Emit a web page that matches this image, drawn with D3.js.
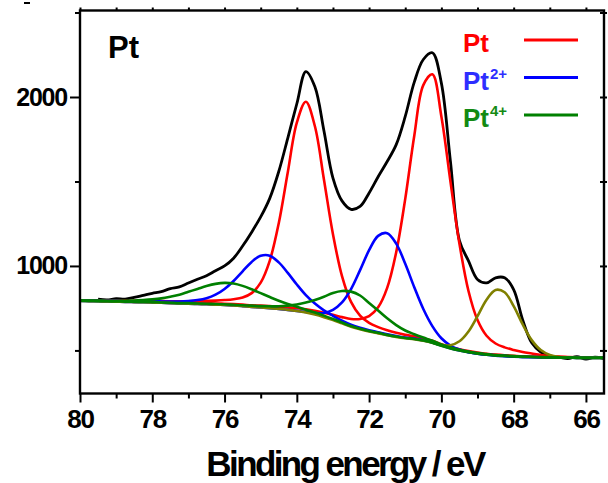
<!DOCTYPE html>
<html><head><meta charset="utf-8">
<script src="https://cdn.jsdelivr.net/npm/d3@7"></script>
<style>
html,body{margin:0;padding:0;background:#fff;}
svg{display:block;}
text{font-family:"Liberation Sans",Arial,Helvetica,sans-serif;font-weight:bold;}
</style></head><body>
<svg id="chart" width="608" height="483"></svg>
<script>
// ---- data (binding energy in eV, intensity in counts) ----
const energy = [80,79.75,79.5,79.25,79,78.75,78.5,78.25,78,77.75,77.5,77.25,77,76.75,76.5,76.25,76,75.75,75.5,75.25,75,74.75,74.5,74.25,74,73.75,73.5,73.25,73,72.75,72.5,72.25,72,71.75,71.5,71.25,71,70.75,70.5,70.25,70,69.75,69.5,69.25,69,68.75,68.5,68.25,68,67.75,67.5,67.25,67,66.75,66.5,66.25,66,65.75,65.5];

const envelope = [null,null,803,799,806,804,814,826,838,848,866,876,899,921,942,972,1000,1046,1118,1200,1290,1400,1559,1757,1960,2150,2060,1800,1520,1385,1335,1352,1432,1528,1618,1718,1885,2088,2222,2262,2082,1620,1150,1030,920,900,930,930,860,680,545,490,463,460,452,463,449,460,451];

const ptPeak1 = [797,796,796,795,795,793,793,793,793,792,791,791,791,792,793,795,798,803,813,839,901,1030,1253,1555,1848,1972,1827,1512,1188,940,787,706,663,638,619,604,592,583,571,557,537,520,507,496,487,480,475,471,468,465,464,463,461,460,460,459,459,458,458];
const ptPeak2 = [796,795,794,793,792,790,790,789,788,786,785,783,782,781,779,778,776,774,771,767,765,762,758,755,750,743,734,723,711,697,686,686,703,755,870,1081,1397,1771,2070,2134,1885,1501,1131,852,680,587,541,518,503,491,482,473,467,463,461,459,458,458,457];
const pt2Peak1 = [796,795,794,793,793,791,791,791,790,790,789,789,792,798,809,830,864,911,968,1024,1060,1061,1021,959,890,827,777,737,705,676,652,634,620,608,596,585,576,570,560,547,529,513,500,490,482,476,471,467,464,462,461,460,459,458,458,457,457,457,457];
const pt2Peak2 = [793,792,791,790,789,787,786,785,784,782,780,778,777,775,773,771,769,766,762,758,754,750,745,740,734,727,721,722,740,784,863,975,1093,1178,1194,1132,1013,874,745,644,572,529,505,490,481,474,469,466,463,461,460,459,458,457,457,456,456,456,456];
const pt4Peak1 = [796,795,795,794,794,794,795,798,802,808,818,830,847,864,881,894,900,896,882,862,839,816,794,775,758,741,724,706,686,665,644,628,615,604,592,582,574,568,559,546,527,511,499,489,481,475,470,467,464,462,461,459,458,457,457,456,456,456,456];
const pt4Peak2 = [794,793,792,791,790,789,788,787,786,784,782,780,780,778,776,775,773,770,767,765,762,761,761,765,772,783,799,818,840,852,848,825,781,736,690,650,618,596,576,557,535,517,504,493,484,478,472,469,466,463,462,461,460,459,458,457,457,457,457];
const extraPeak = [793,792,791,790,789,787,786,785,784,782,780,778,777,775,773,771,769,766,762,758,754,750,745,740,733,724,712,697,680,660,640,625,612,601,590,580,572,566,557,546,532,531,554,612,703,800,858,844,762,654,561,502,473,461,458,456,456,456,456];

const xMajorTicks = [80,78,76,74,72,70,68,66];
const xMinorTicks = [79,77,75,73,71,69,67];
const xTopTicks = [80,79,78,77,76,75,74,73,72,71,70,69,68,67,66];
const yMajorTicks = [1000,2000];
const yMinorTicks = [500,1500,2500];
const legendItems = [
  {name:"Pt", sup:"", text:"#ff0000", line:"#ff0000"},
  {name:"Pt", sup:"2+", text:"#2e2eff", line:"#0000ff"},
  {name:"Pt", sup:"4+", text:"#138a13", line:"#008000"}
];

// ---- layout ----
const svg = d3.select("#chart");
const L = 80, R = 604, T = 10.5, B = 393.5;
const x = d3.scaleLinear().domain([80, 65.5]).range([L, R]);
const y = d3.scaleLinear().domain([245, 2512]).range([B, T]);

svg.append("defs").append("clipPath").attr("id","clip")
  .append("rect").attr("x",L).attr("y",T).attr("width",R-L).attr("height",B-T);

const plot = svg.append("g").attr("clip-path","url(#clip)");

function series(vals){ return energy.map((e,i)=>({e:e, v:vals[i]})); }
const line = d3.line().defined(d=>d.v!=null).x(d=>x(d.e)).y(d=>y(d.v)).curve(d3.curveCatmullRom.alpha(0.5));

const curves = [
  {vals:envelope, color:"#000000", w:2.8},
  {vals:ptPeak1, color:"#ff0000", w:2.6},
  {vals:ptPeak2, color:"#ff0000", w:2.6},
  {vals:pt2Peak1, color:"#0000ff", w:2.6},
  {vals:pt2Peak2, color:"#0000ff", w:2.6},
  {vals:extraPeak, color:"#808000", w:2.6},
  {vals:pt4Peak1, color:"#008000", w:2.6},
  {vals:pt4Peak2, color:"#008000", w:2.6}
];
curves.forEach(c=>{
  plot.append("path").datum(series(c.vals))
    .attr("fill","none").attr("stroke",c.color).attr("stroke-width",c.w)
    .attr("stroke-linejoin","round").attr("d",line);
});

// ---- axes ----
function styleAxis(g){ g.select(".domain").remove(); g.selectAll(".tick line").attr("stroke","#000").attr("stroke-width",2); }

const gb = svg.append("g").attr("transform",`translate(0,${B})`)
  .call(d3.axisBottom(x).tickValues(xMajorTicks).tickSize(9).tickFormat(d3.format("d")));
styleAxis(gb);
gb.selectAll(".tick text").attr("y",16.5).attr("dy","0.71em").attr("font-size",26)
  .attr("letter-spacing","-1.2px").attr("fill","#000");
const gbm = svg.append("g").attr("transform",`translate(0,${B})`)
  .call(d3.axisBottom(x).tickValues(xMinorTicks).tickSize(5).tickFormat(""));
styleAxis(gbm);

const gt = svg.append("g").attr("transform",`translate(0,${T})`)
  .call(d3.axisTop(x).tickValues(xTopTicks).tickSize(3).tickFormat(""));
styleAxis(gt);

const gl = svg.append("g").attr("transform",`translate(${L},0)`)
  .call(d3.axisLeft(y).tickValues(yMajorTicks).tickSize(10).tickFormat(d3.format("d")));
styleAxis(gl);
gl.selectAll(".tick text").attr("x",-13).attr("font-size",25).attr("letter-spacing","-1.2px").attr("fill","#000");
const glm = svg.append("g").attr("transform",`translate(${L},0)`)
  .call(d3.axisLeft(y).tickValues(yMinorTicks).tickSize(5).tickFormat(""));
styleAxis(glm);

const gr = svg.append("g").attr("transform",`translate(${R-4},0)`)
  .call(d3.axisRight(y).tickValues(yMajorTicks.concat(yMinorTicks)).tickSize(7).tickFormat(""));
styleAxis(gr);

// frame
svg.append("rect").attr("x",L).attr("y",T).attr("width",R-L).attr("height",B-T)
  .attr("fill","none").attr("stroke","#000").attr("stroke-width",2.4);

// axis title
svg.append("text").attr("x",345).attr("y",476).attr("text-anchor","middle")
  .attr("font-size",35).attr("letter-spacing","-2.6px").attr("fill","#000")
  .text("Binding energy / eV");

// panel label
svg.append("text").attr("x",108).attr("y",58).attr("font-size",31).attr("fill","#000").text("Pt");

// legend
const leg = svg.append("g");
legendItems.forEach((d,i)=>{
  const by = 52 + i*37.5;
  const t = leg.append("text").attr("x",463).attr("y",by).attr("font-size",26).attr("fill",d.text);
  t.append("tspan").text(d.name);
  if(d.sup){ t.append("tspan").attr("font-size",15).attr("dy",-11).attr("dx",1).text(d.sup); }
  leg.append("line").attr("x1",524).attr("x2",578).attr("y1",by-12).attr("y2",by-12)
    .attr("stroke",d.line).attr("stroke-width",3);
});

// small mark at top-left corner of the original figure
svg.append("rect").attr("x",24).attr("y",2).attr("width",6).attr("height",2).attr("fill","#000");
</script>
</body></html>
